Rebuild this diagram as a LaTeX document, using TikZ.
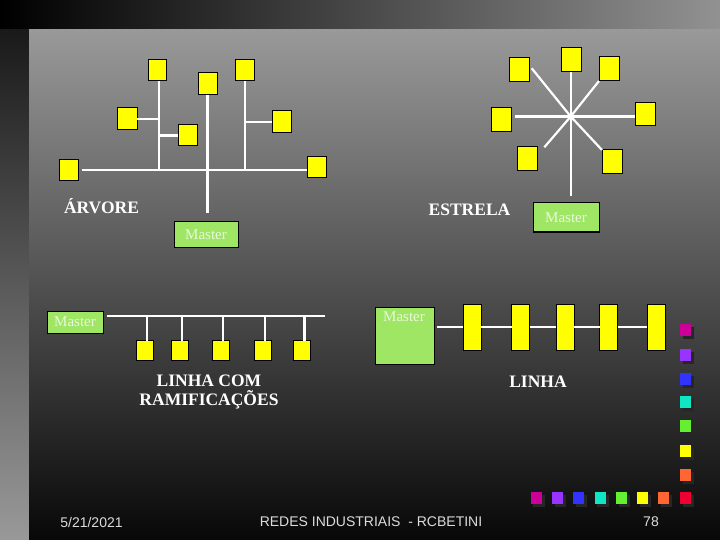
\documentclass[tikz,border=0pt]{standalone}
\usepackage{fontspec}
\setmainfont{Liberation Serif}
\newfontfamily\footfont{Liberation Sans}
\definecolor{yellowbox}{HTML}{FFFF00}
\definecolor{mastergreen}{HTML}{9EE664}
\definecolor{mastertxt}{HTML}{ECF8DC}
\definecolor{footgray}{HTML}{DCDCDC}
\definecolor{cMag}{HTML}{CC0099}
\definecolor{cPur}{HTML}{9933FF}
\definecolor{cBlu}{HTML}{3333FF}
\definecolor{cCya}{HTML}{11E6C4}
\definecolor{cGre}{HTML}{66EE33}
\definecolor{cYel}{HTML}{FFFF00}
\definecolor{cOra}{HTML}{FF6633}
\definecolor{cRed}{HTML}{EE0033}
\begin{document}
\begin{tikzpicture}[x=1pt,y=-1pt,
  ybox/.style={draw=black, line width=1pt, fill=yellowbox, inner sep=0pt, outer sep=0pt},
  masterbox/.style={draw=black, line width=1pt, fill=mastergreen, inner sep=0pt, outer sep=0pt,
     text=mastertxt, font=\fontsize{15}{15}\selectfont},
  mastertext/.style={text=mastertxt, font=\fontsize{15}{15}\selectfont, inner sep=0pt},
  wire/.style={draw=white, line width=2.2pt},
  title/.style={text=white, font=\bfseries\fontsize{17.5}{19.3}\selectfont, align=center, inner sep=0pt},
  foot/.style={text=footgray, font=\footfont\fontsize{14}{14}\selectfont, inner sep=0pt},
  dot/.style={minimum width=11pt, minimum height=12pt, inner sep=0pt, outer sep=0pt}]
\useasboundingbox (0,0) rectangle (720,540);
% background
\shade[left color=black, right color=black!43] (0,0) rectangle (720,30);
\shade[top color=black!90, bottom color=black!40] (0,30) rectangle (29,540);
\shade[top color=black!40, middle color=black!64, bottom color=black!97] (29,30) rectangle (720,540);

% ---------------- ARVORE ----------------
\node[ybox, minimum width=19pt, minimum height=21pt] (t1) at (68.5,170.5) {};
\node[ybox, minimum width=19pt, minimum height=21pt] (t2) at (316.5,167.5) {};
\node[ybox, minimum width=18pt, minimum height=21pt] (t3) at (157.5,70.5) {};
\node[ybox, minimum width=20pt, minimum height=22pt] (t4) at (127,119) {};
\node[ybox, minimum width=19pt, minimum height=21pt] (t5) at (187.5,135.5) {};
\node[ybox, minimum width=19pt, minimum height=22pt] (t6) at (207.5,84) {};
\node[ybox, minimum width=19pt, minimum height=21pt] (t7) at (244.5,70.5) {};
\node[ybox, minimum width=19pt, minimum height=22pt] (t8) at (281.5,122) {};
\node[masterbox, minimum width=64pt, minimum height=25pt] (tm) at (206,234.5) {Master};
\coordinate (tbl) at (81.7,170);
\coordinate (tj1) at (159,170);
\coordinate (tj3) at (245,170);
\coordinate (tmtop) at (207,213);
\draw[wire] (tbl) -- (t2.west |- tbl);
\draw[wire] (tj1) -- (tj1 |- t3.south);
\draw[wire] (t4.east) -- (t4.east -| tj1);
\draw[wire] (t5.west) -- (t5.west -| tj1);
\draw[wire] (t6.south) -- (t6.south |- tmtop);
\draw[wire] (tj3) -- (tj3 |- t7.south);
\draw[wire] (t8.west) -- (t8.west -| tj3);
\node[title] (tarv) at (101.5,205.7) {ÁRVORE};

% ---------------- ESTRELA ----------------
\node[ybox, minimum width=20pt, minimum height=24pt] (s1) at (571,60) {};
\node[ybox, minimum width=20pt, minimum height=24pt] (s2) at (609,69) {};
\node[ybox, minimum width=20pt, minimum height=24pt] (s3) at (519,70) {};
\node[ybox, minimum width=20pt, minimum height=24pt] (s4) at (501,120) {};
\node[ybox, minimum width=20pt, minimum height=23pt] (s5) at (645,114.5) {};
\node[ybox, minimum width=20pt, minimum height=24pt] (s6) at (527,159) {};
\node[ybox, minimum width=20pt, minimum height=24pt] (s7) at (612,162) {};
\node[masterbox, minimum width=66pt, minimum height=29pt] (sm) at (566,217.5) {Master};
\coordinate (sc) at (570.7,116.5);
\coordinate (e3) at (531.7,68.3);
\coordinate (e4) at (515,116.5);
\coordinate (e6) at (544.3,147.3);
\coordinate (e8) at (570.7,195.7);
\draw[wire] (s1.south -| sc) -- (e8);
\draw[wire] (e4) -- (sc -| s5.west);
\draw[wire] (e3) -- (sc) -- (s7.north west);
\draw[wire] (e6) -- (sc) -- (s2.south west);
\node[title] (test) at (469.5,210) {ESTRELA};

% ---------------- LINHA COM RAMIFICACOES ----------------
\node[masterbox, minimum width=56pt, minimum height=22pt] (rm) at (75,322) {Master};
\coordinate (rbL) at (106.7,315.7);
\coordinate (rbR) at (325,315.7);
\draw[wire] (rbL) -- (rbR);
\foreach \i/\x in {1/144.8,2/180.3,3/220.8,4/262.8,5/302.4}{
  \node[ybox, minimum width=17pt, minimum height=20pt] (r\i) at (\x,350.8) {};
  \draw[wire] ([xshift=2pt]r\i.north) -- ([xshift=2pt]r\i.north |- rbL);
}
\node[title] (tram) at (209,392.3) {LINHA COM\\RAMIFICAÇÕES};

% ---------------- LINHA ----------------
\node[masterbox, minimum width=59pt, minimum height=57pt] (lm) at (404.8,335.7) {};
\node[mastertext] (lmt) at (404,317) {Master};
\foreach \i/\x in {1/472.3,2/520.5,3/565,4/608.8,5/656}{
  \node[ybox, minimum width=18pt, minimum height=46.5pt] (l\i) at (\x,327.5) {};
}
\coordinate (lst) at (437.3,326.7);
\draw[wire] (lst) -- (lst -| l1.west);
\draw[wire] (l1.east |- lst) -- (l2.west |- lst);
\draw[wire] (l2.east |- lst) -- (l3.west |- lst);
\draw[wire] (l3.east |- lst) -- (l4.west |- lst);
\draw[wire] (l4.east |- lst) -- (l5.west |- lst);
\node[title] (tlin) at (538,382) {LINHA};

% ---------------- coloured squares ----------------
\foreach \c/\y [count=\k] in {cMag/330,cPur/354.5,cBlu/379,cCya/402,cGre/426,cYel/450.5,cOra/474.5}{
  \fill[black!85] (682.5,\y-3) rectangle (694,\y+9);
  \node[dot, fill=\c] (v\k) at (685.5,\y) {};
}
\foreach \c/\x [count=\k] in {cMag/536,cPur/557.5,cBlu/578.5,cCya/600,cGre/621.5,cYel/642.5,cOra/663.5,cRed/685.5}{
  \fill[black!85] (\x-3,501) rectangle (\x+8.5,507);
  \fill[black!85] (\x+2.5,495) rectangle (\x+8.5,507);
  \node[dot, fill=\c] (h\k) at (\x,498) {};
}

% ---------------- footer ----------------
\node[foot] (fdate) at (91.5,522) {5/21/2021};
\node[foot] (ftitle) at (371,522) {REDES INDUSTRIAIS\ \ - RCBETINI};
\node[foot] (fpage) at (651,522) {78};
\end{tikzpicture}
\end{document}
